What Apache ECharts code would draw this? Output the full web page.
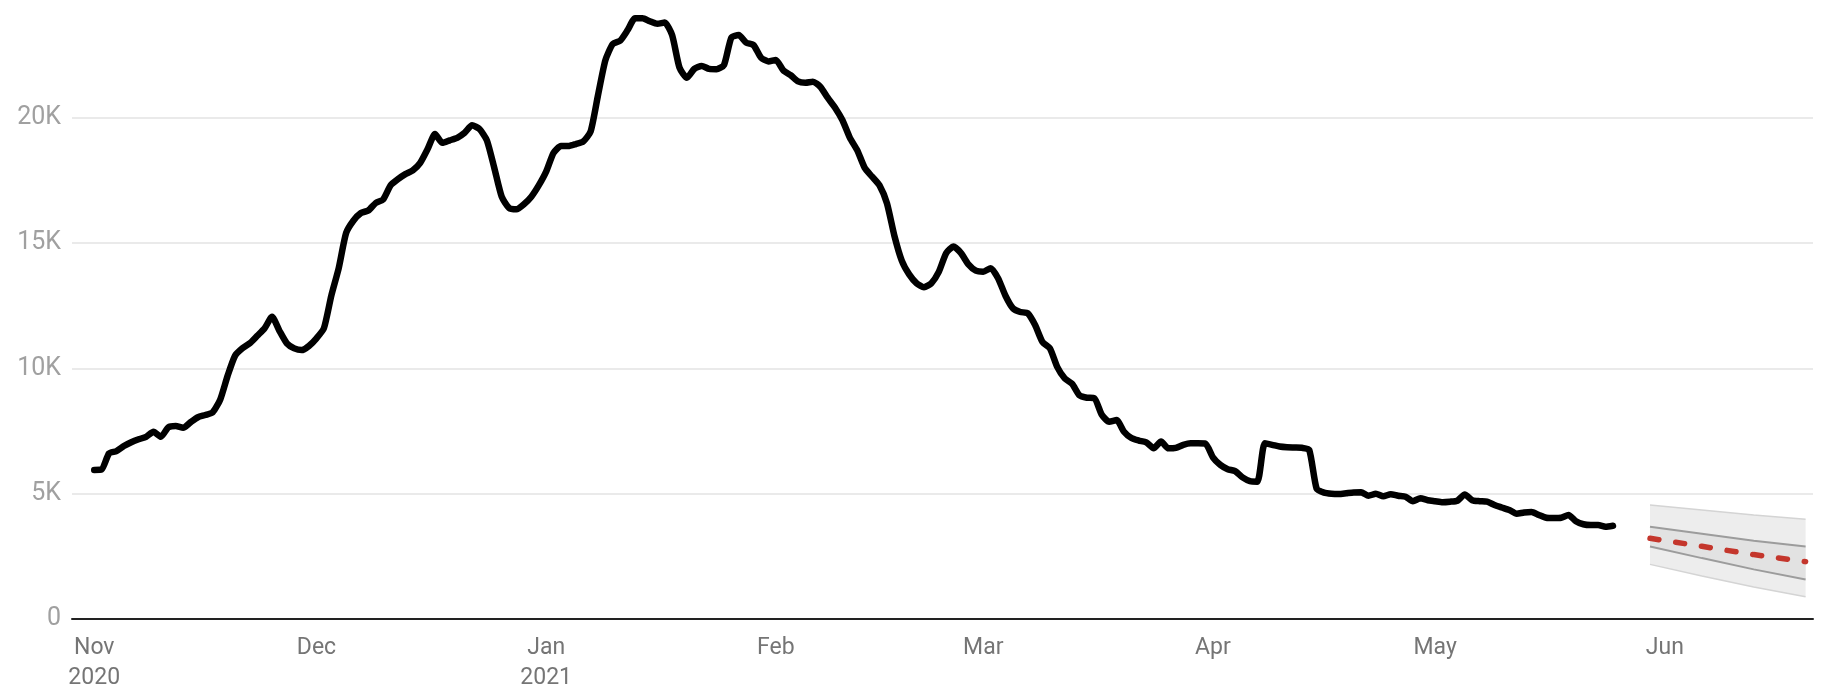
<!DOCTYPE html>
<html>
<head>
<meta charset="utf-8">
<script src="https://cdn.jsdelivr.net/npm/echarts@6/dist/echarts.min.js"></script>
<style>
html,body{margin:0;padding:0;background:#fff;}
#chart{width:1841px;height:693px;}
</style>
</head>
<body>
<div id="chart"></div>
<script>
// ---- data ----
const startDate = '2020-11-01';          // first day of the observed series (x = 0)
const axisStartDay = -3;                 // Oct 29 2020
const axisEndDay = 232;                  // Jun 21 2021
const monthNames = ['Jan','Feb','Mar','Apr','May','Jun','Jul','Aug','Sep','Oct','Nov','Dec'];
const yTicks = [0, 5000, 10000, 15000, 20000];

// daily observed values, one per day starting at startDate
const cases = [
  5950, 5970, 6610, 6700, 6900, 7050, 7170, 7270, 7470, 7270,
  7650, 7700, 7630, 7850, 8050, 8140, 8250, 8750, 9700, 10500,
  10800, 11000, 11300, 11600, 12060, 11500, 11000, 10800, 10730, 10900,
  11200, 11600, 12900, 14000, 15400, 15900, 16200, 16300, 16600, 16740,
  17300, 17550, 17750, 17900, 18200, 18750, 19350, 19000, 19100, 19200,
  19400, 19700, 19550, 19100, 18000, 16850, 16400, 16350, 16550, 16850,
  17300, 17850, 18600, 18870, 18870, 18950, 19050, 19450, 20900, 22300,
  22950, 23080, 23500, 23970, 23970, 23850, 23750, 23800, 23300, 22000,
  21600, 21950, 22070, 21950, 21940, 22100, 23200, 23300, 23000, 22900,
  22400, 22250, 22310, 21900, 21700, 21450, 21400, 21440, 21240, 20800,
  20400, 19900, 19200, 18700, 18000, 17650, 17300, 16590, 15300, 14300,
  13750, 13400, 13240, 13400, 13850, 14600, 14860, 14600, 14150, 13900,
  13860, 14000, 13600, 12900, 12400, 12250, 12200, 11730, 11050, 10800,
  10050, 9600, 9380, 8920, 8830, 8810, 8150, 7870, 7940, 7470,
  7220, 7120, 7050, 6810, 7080, 6810, 6830, 6950, 7010, 7010,
  7000, 6450, 6150, 5980, 5900, 5650, 5500, 5480, 7010, 6950,
  6880, 6850, 6840, 6830, 6750, 5200, 5040, 5000, 4990, 5020,
  5050, 5060, 4920, 5000, 4900, 4980, 4920, 4880, 4700, 4820,
  4740, 4700, 4660, 4680, 4720, 4970, 4740, 4700, 4680, 4550,
  4450, 4350, 4200, 4250, 4270, 4150, 4040, 4030, 4040, 4150,
  3900, 3780, 3750, 3750, 3680, 3720
];

// forecast (days since startDate)
const fcDays      = [210, 217, 224, 231];
const fcMedian    = [3220, 2900, 2570, 2290];
const fcInnerLow  = [2890, 2430, 1980, 1580];
const fcInnerHigh = [3680, 3400, 3120, 2890];
const fcOuterLow  = [2180, 1720, 1280, 890];
const fcOuterHigh = [4550, 4350, 4150, 3980];

// ---- helpers ----
const DAY = 86400000;
const t0 = Date.parse(startDate + 'T00:00:00Z');
function dayToDate(d){ return new Date(t0 + d * DAY); }

const histData = cases.map((v, i) => [i, v]);
const pairs = (ys) => fcDays.map((d, i) => [d, ys[i]]);
const FONT = 'Roboto, "Noto Sans", sans-serif';

function bandSeries(hi, lo, fill, z){
  return {
    type: 'custom',
    silent: true,
    z: z,
    data: [[fcDays[0], hi[0]]],
    renderItem: function (params, api) {
      if (params.dataIndex !== 0) return null;
      const pts = [];
      for (let i = 0; i < fcDays.length; i++) pts.push(api.coord([fcDays[i], hi[i]]));
      for (let i = fcDays.length - 1; i >= 0; i--) pts.push(api.coord([fcDays[i], lo[i]]));
      return {type: 'polygon', shape: {points: pts}, style: {fill: fill, stroke: null}};
    }
  };
}
function edgeSeries(ys, color, width, z){
  return {type: 'line', data: pairs(ys), symbol: 'none', silent: true,
          lineStyle: {color: color, width: width}, z: z};
}

const chart = echarts.init(document.getElementById('chart'), null, {renderer: 'canvas'});

const option = {
  animation: false,
  backgroundColor: '#ffffff',
  grid: {left: 72, right: 28, top: 5, bottom: 74, containLabel: false, outerBoundsMode: 'none'},
  xAxis: {
    type: 'value',
    min: axisStartDay,
    max: axisEndDay,
    interval: 1,
    axisLine: {show: true, onZero: false, lineStyle: {color: '#222222', width: 2}},
    axisTick: {show: false},
    splitLine: {show: false},
    axisLabel: {
      show: true,
      margin: 14,
      color: '#757575',
      fontFamily: FONT,
      fontSize: 23,
      lineHeight: 30,
      formatter: function (v) {
        const dt = dayToDate(Math.round(v));
        if (dt.getUTCDate() !== 1) return '';
        const m = dt.getUTCMonth();
        let s = monthNames[m];
        if (m === 0 || (m === 10 && dt.getUTCFullYear() === 2020)) s += '\n' + dt.getUTCFullYear();
        return s;
      }
    }
  },
  yAxis: {
    type: 'value',
    min: 0,
    max: 24500,
    interval: 5000,
    axisLine: {show: false},
    axisTick: {show: false},
    splitLine: {show: true, showMaxLine: false, lineStyle: {color: '#e3e3e3', width: 1.5}},
    axisLabel: {
      margin: 11,
      color: '#a0a0a0',
      fontFamily: FONT,
      fontSize: 25,
      showMaxLabel: false,
      formatter: function (v) {
        if (yTicks.indexOf(v) < 0) return '';
        return v === 0 ? '0' : (v / 1000) + 'K';
      }
    }
  },
  series: [
    bandSeries(fcOuterHigh, fcOuterLow, '#ededed', 1),
    bandSeries(fcInnerHigh, fcInnerLow, '#e2e2e2', 2),
    edgeSeries(fcOuterHigh, '#d4d4d4', 1.5, 3),
    edgeSeries(fcOuterLow, '#d4d4d4', 1.5, 3),
    edgeSeries(fcInnerHigh, '#9c9c9c', 2, 3),
    edgeSeries(fcInnerLow, '#9c9c9c', 2, 3),
    // median forecast
    {type: 'line', data: pairs(fcMedian), symbol: 'none', silent: true,
     lineStyle: {color: '#c4362c', width: 5.5, type: [9, 17], cap: 'round'}, z: 4},
    // observed
    {type: 'line', data: histData, symbol: 'none', smooth: 0.2, silent: true,
     lineStyle: {color: '#000000', width: 6.5, cap: 'round', join: 'round'}, z: 5}
  ]
};
chart.setOption(option);
</script>
</body>
</html>
